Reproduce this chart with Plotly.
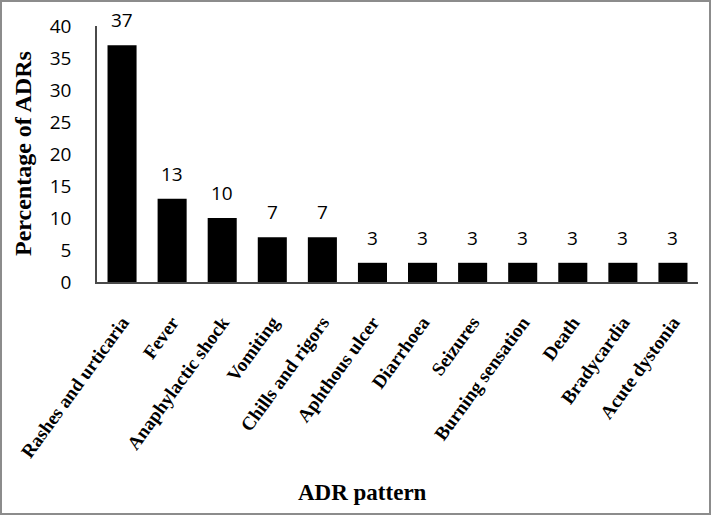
import plotly.graph_objects as go

# ADR pattern data (percent)
categories = [
    "Rashes and urticaria",
    "Fever",
    "Anaphylactic shock",
    "Vomiting",
    "Chills and rigors",
    "Aphthous ulcer",
    "Diarrhoea",
    "Seizures",
    "Burning sensation",
    "Death",
    "Bradycardia",
    "Acute dystonia",
]
percentages = [37, 13, 10, 7, 7, 3, 3, 3, 3, 3, 3, 3]
y_ticks = [0, 5, 10, 15, 20, 25, 30, 35, 40]

W, H = 711, 515
ml, mr, mt, mb = 97, 13, 26, 233
pw, ph = W - ml - mr, H - mt - mb

serif = "Liberation Serif, Times New Roman, serif"
sans = "Open Sans, Liberation Sans, sans-serif"

fig = go.Figure(
    go.Bar(
        x=categories,
        y=percentages,
        marker=dict(color="black", line=dict(width=0)),
        hoverinfo="x+y",
    )
)

# value labels above bars
for c, v in zip(categories, percentages):
    fig.add_annotation(
        x=c, y=v, text=str(v), showarrow=False,
        yanchor="bottom", yshift=10,
        font=dict(family=sans, size=19, color="black"),
    )

# axis titles
fig.add_annotation(
    x=(362 - ml) / pw, y=-(492 - 282) / ph, xref="paper", yref="paper",
    text="<b>ADR pattern</b>", showarrow=False,
    xanchor="center", yanchor="middle",
    font=dict(family=serif, size=23, color="black"),
)
fig.add_annotation(
    x=(23 - ml) / pw, y=0.5, xref="paper", yref="paper",
    text="<b>Percentage of ADRs</b>", showarrow=False, textangle=-90,
    xanchor="center", yanchor="middle",
    font=dict(family=serif, size=24, color="black"),
)

# outer grey frame
fig.add_shape(
    type="rect", xref="paper", yref="paper",
    x0=(1 - ml) / pw, x1=(W - 1 - ml) / pw,
    y0=-(mb - 1) / ph, y1=(H - 1 - mb) / ph,
    line=dict(color="#8c8c8c", width=2),
)

fig.update_layout(
    width=W, height=H,
    margin=dict(l=ml, r=mr, t=mt, b=mb),
    plot_bgcolor="white", paper_bgcolor="white",
    bargap=0.42,
    showlegend=False,
)
fig.update_xaxes(
    showline=True, linecolor="#4a4a4a", linewidth=1.5,
    showgrid=False, ticks="", tickangle=-54,
    ticklabelstandoff=20,
    tickfont=dict(family=serif, size=19, color="black", weight="bold"),
)
fig.update_yaxes(
    range=[0, 40], tickvals=y_ticks,
    showline=True, linecolor="#4a4a4a", linewidth=1.5,
    showgrid=False, zeroline=False, ticks="",
    ticklabelstandoff=20,
    tickfont=dict(family=sans, size=19, color="black"),
)

fig.write_html(
    "out.html",
    config={"displayModeBar": False},
    post_script="document.body.style.margin='0';",
)
